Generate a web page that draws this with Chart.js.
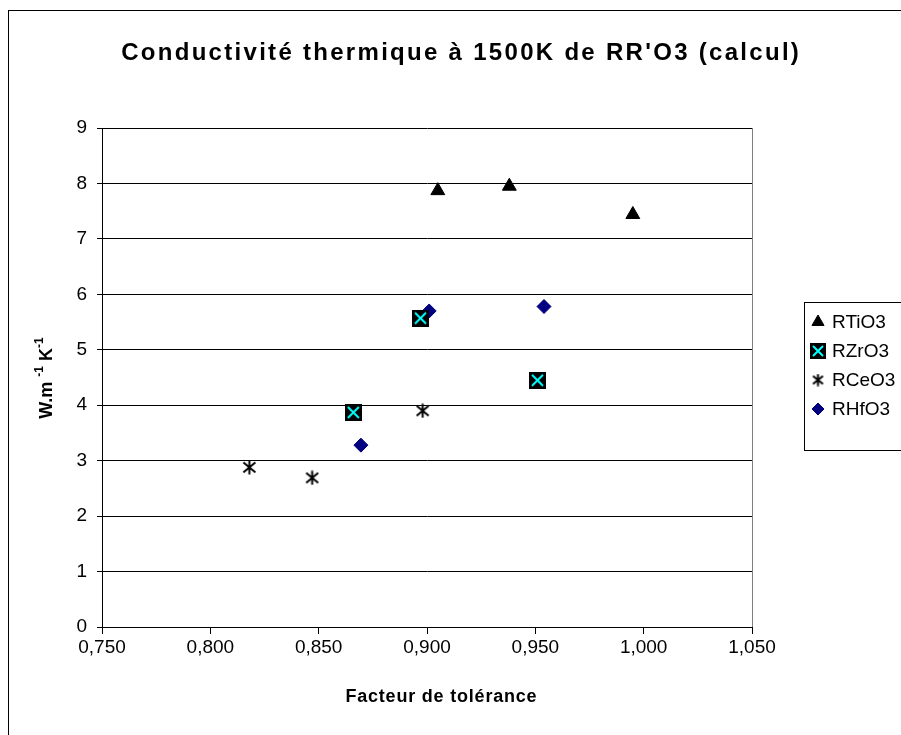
<!DOCTYPE html>
<html>
<head>
<meta charset="utf-8">
<script src="https://cdn.jsdelivr.net/npm/chart.js@4/dist/chart.umd.min.js"></script>
<style>
html, body { margin: 0; padding: 0; background: #fff; }
#wrap { width: 901px; height: 735px; position: relative; }
</style>
</head>
<body>
<div id="wrap"><canvas id="myChart"></canvas></div>
<script>
// data
var seriesNames = ['RTiO3', 'RZrO3', 'RCeO3', 'RHfO3'];
var rtio3X = [0.905, 0.938, 0.995];
var rtio3Y = [7.87, 7.95, 7.44];
var rzro3X = [0.897, 0.866, 0.951];
var rzro3Y = [5.57, 3.87, 4.45];
var rceo3X = [0.818, 0.847, 0.898];
var rceo3Y = [2.88, 2.69, 3.9];
var rhfo3X = [0.901, 0.954, 0.8695];
var rhfo3Y = [5.7, 5.78, 3.28];
var xTicks = [0.75, 0.80, 0.85, 0.90, 0.95, 1.00, 1.05];
var yTicks = [0, 1, 2, 3, 4, 5, 6, 7, 8, 9];

var chartTitle = "Conductivité thermique à 1500K de RR'O3 (calcul)";
var xTitle = 'Facteur de tolérance';

function pts(xs, ys) {
    return xs.map(function (x, i) { return { x: x, y: ys[i] }; });
}

// black square with a cyan cross (Excel style marker)
function zrMarker(size) {
    var c = document.createElement('canvas');
    c.width = size; c.height = size;
    var g = c.getContext('2d');
    g.fillStyle = '#000';
    g.fillRect(0, 0, size, size);
    g.strokeStyle = '#00ffff';
    g.lineWidth = 2;
    g.beginPath();
    g.moveTo(3, 3); g.lineTo(size - 3, size - 3);
    g.moveTo(size - 3, 3); g.lineTo(3, size - 3);
    g.stroke();
    return c;
}

// asterisk: vertical bar plus an X
function ceMarker(size) {
    var c = document.createElement('canvas');
    c.width = size; c.height = size;
    var g = c.getContext('2d');
    g.strokeStyle = '#000';
    g.lineWidth = 2;
    g.beginPath();
    g.moveTo(size / 2, 0.5); g.lineTo(size / 2, size - 0.5);
    g.moveTo(1.5, 2.5); g.lineTo(size - 1.5, size - 2.5);
    g.moveTo(size - 1.5, 2.5); g.lineTo(1.5, size - 2.5);
    g.stroke();
    return c;
}

var zrImg = zrMarker(17);
var ceImg = ceMarker(15);
var zrImgSmall = zrMarker(16);
var ceImgSmall = ceMarker(13);

function spacedText(g, text, cx, y, target) {
    g.letterSpacing = '0px';
    var w0 = g.measureText(text).width;
    var ls = Math.max((target - w0) / text.length, 0);
    g.letterSpacing = ls + 'px';
    g.textAlign = 'left';
    g.fillText(text, cx - target / 2 + ls / 2, y);
    g.letterSpacing = '0px';
}

var decor = {
    id: 'decor',
    afterDraw: function (chart) {
        var g = chart.ctx;
        var a = chart.chartArea;
        g.save();
        // outer frame
        g.strokeStyle = '#000';
        g.lineWidth = 1;
        g.strokeRect(8.5, 10.5, 1000, 800);
        // plot area right edge
        g.strokeStyle = '#808080';
        g.beginPath();
        g.moveTo(a.right + 0.5, a.top);
        g.lineTo(a.right + 0.5, a.bottom);
        g.stroke();

        g.fillStyle = '#000';
        g.textBaseline = 'middle';
        // chart title
        g.font = 'bold 24px "Liberation Sans", Arial, sans-serif';
        spacedText(g, chartTitle, 460, 53, 680);
        // x axis title
        g.font = 'bold 18px "Liberation Sans", Arial, sans-serif';
        spacedText(g, xTitle, 441, 697, 192);

        // y axis title with superscripts
        g.translate(46, 378);
        g.rotate(-Math.PI / 2);
        var parts = [['W.m ', 18, 0], ['-1', 12, -7], [' K', 18, 0], ['-1', 12, -7]];
        var tot = 0;
        parts.forEach(function (p) {
            g.font = 'bold ' + p[1] + 'px "Liberation Sans", Arial, sans-serif';
            tot += g.measureText(p[0]).width;
        });
        var px = -tot / 2;
        g.textAlign = 'left';
        parts.forEach(function (p) {
            g.font = 'bold ' + p[1] + 'px "Liberation Sans", Arial, sans-serif';
            g.fillText(p[0], px, p[2] + 1);
            px += g.measureText(p[0]).width;
        });
        g.setTransform(1, 0, 0, 1, 0, 0);

        // legend
        g.strokeStyle = '#000';
        g.strokeRect(804.5, 302.5, 200, 148);
        var rowY = [322, 351, 380, 409];
        var mx = 818;
        g.font = '19px "Liberation Sans", Arial, sans-serif';
        g.textAlign = 'left';
        chart.data.datasets.forEach(function (ds, i) {
            var y = rowY[i];
            g.fillStyle = ds.backgroundColor || '#000';
            g.strokeStyle = ds.borderColor || '#000';
            var style = ds.pointStyle;
            if (style === zrImg) style = zrImgSmall;
            if (style === ceImg) style = ceImgSmall;
            Chart.helpers.drawPoint(g, {
                pointStyle: style,
                radius: ds.pointRadius ? ds.pointRadius - 1 : 6,
                rotation: 0,
                borderWidth: 1
            }, mx, y);
            g.fillStyle = '#000';
            g.fillText(ds.label, 832, y + 1);
        });
        g.restore();
    }
};

var ctx = document.getElementById('myChart');
var myChart = new Chart(ctx, {
    type: 'scatter',
    data: {
        datasets: [{
            label: seriesNames[0],
            data: pts(rtio3X, rtio3Y),
            pointStyle: 'triangle',
            pointRadius: 8,
            backgroundColor: '#000',
            borderColor: '#000',
            borderWidth: 1
        }, {
            label: seriesNames[1],
            data: pts(rzro3X, rzro3Y),
            pointStyle: zrImg,
            pointRadius: 9,
            backgroundColor: '#000',
            borderColor: '#000'
        }, {
            label: seriesNames[2],
            data: pts(rceo3X, rceo3Y),
            pointStyle: ceImg,
            pointRadius: 8,
            backgroundColor: '#000',
            borderColor: '#000'
        }, {
            label: seriesNames[3],
            data: pts(rhfo3X, rhfo3Y),
            pointStyle: 'rectRot',
            pointRadius: 7,
            backgroundColor: '#000080',
            borderColor: '#000080',
            borderWidth: 1
        }]
    },
    options: {
        responsive: true,
        maintainAspectRatio: false,
        animation: false,
        layout: { padding: { left: 0, right: 149, top: 128, bottom: 0 } },
        plugins: {
            legend: { display: false },
            title: { display: false },
            tooltip: { enabled: false }
        },
        scales: {
            x: {
                type: 'linear',
                min: xTicks[0],
                max: xTicks[xTicks.length - 1],
                afterBuildTicks: function (s) {
                    s.ticks = xTicks.map(function (v) { return { value: v }; });
                },
                afterFit: function (s) { s.height = 108; },
                grid: { drawOnChartArea: false, drawTicks: true, tickLength: 7, color: '#000' },
                border: { color: '#000', width: 1 },
                ticks: {
                    color: '#000',
                    padding: 2,
                    maxRotation: 0,
                    autoSkip: false,
                    font: { family: '"Liberation Sans", Arial, sans-serif', size: 19 },
                    callback: function (v) { return v.toFixed(3).replace('.', ','); }
                }
            },
            y: {
                min: yTicks[0],
                max: yTicks[yTicks.length - 1],
                afterBuildTicks: function (s) {
                    s.ticks = yTicks.map(function (v) { return { value: v }; });
                },
                afterFit: function (s) { s.width = 102; },
                grid: { color: '#000', tickLength: 5 },
                border: { color: '#000', width: 1 },
                ticks: {
                    color: '#000',
                    padding: 10,
                    autoSkip: false,
                    font: { family: '"Liberation Sans", Arial, sans-serif', size: 19 },
                    callback: function (v) { return String(v); }
                }
            }
        }
    },
    plugins: [decor]
});
</script>
</body>
</html>
